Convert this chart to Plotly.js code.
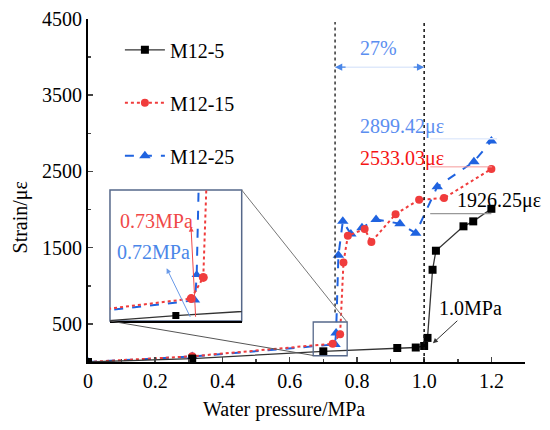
<!DOCTYPE html>
<html><head><meta charset="utf-8">
<script src="https://cdn.plot.ly/plotly-3.0.1.min.js"></script>
<style>html,body{margin:0;padding:0;background:#fff;}#chart{width:550px;height:430px;}</style>
</head><body><div id="chart"></div>
<script>
// ---- data ----
var seriesNames = ["M12-5", "M12-15", "M12-25"];
var m5X = [0, 0.31, 0.70, 0.92, 0.975, 1.0, 1.01, 1.025, 1.035, 1.117, 1.146, 1.2];
var m5Y = [0, 45, 140, 184, 190, 210, 316, 1210, 1460, 1780, 1845, 2010];
var m15X = [0, 0.31, 0.728, 0.75, 0.76, 0.773, 0.823, 0.843, 0.915, 0.985, 1.059, 1.2];
var m15Y = [0, 75, 240, 365, 1307, 1655, 1745, 1575, 1940, 2130, 2150, 2533.03];
var m25X = [0, 0.31, 0.735, 0.738, 0.745, 0.758, 0.782, 0.815, 0.857, 0.928, 0.975, 1.039, 1.148, 1.2];
var m25Y = [0, 72, 230, 380, 1400, 1845, 1680, 1760, 1870, 1815, 1690, 2300, 2628, 2899.42];
var xTickVals = [0, 0.2, 0.4, 0.6, 0.8, 1.0, 1.2];
var xTickText = ["0", "0.2", "0.4", "0.6", "0.8", "1.0", "1.2"];
var yTickVals = [500, 1500, 2500, 3500, 4500];
var yTickText = ["500", "1500", "2500", "3500", "4500"];

var FONT = "Times New Roman, Liberation Serif, DejaVu Serif, serif";
var BLACK = "#000000", RED = "#f03c3c", BLUE = "#1f63e0", LBLUE = "#5b8ef0";

function mk(x, y, name, col, dash, sym, size, lw, axis, show, rank, grp) {
  return {
    x: x, y: y, name: name, type: "scatter", mode: "lines+markers",
    line: {color: col, dash: dash, width: lw},
    marker: {color: col, symbol: sym, size: size},
    xaxis: axis[0], yaxis: axis[1], showlegend: show, legendrank: rank, legendgroup: grp
  };
}
var traces = [
  mk(m25X, m25Y, seriesNames[2], BLUE, "dash", "triangle-up", 10, 2, ["x","y"], true, 3, "c"),
  mk(m15X, m15Y, seriesNames[1], RED, "dot", "circle", 8, 2, ["x","y"], true, 2, "b"),
  mk(m5X, m5Y, seriesNames[0], BLACK, "solid", "square", 8, 1.3, ["x","y"], true, 1, "a"),
  mk(m25X, m25Y, seriesNames[2], BLUE, "dash", "triangle-up", 9, 2, ["x2","y2"], false, 6, "c"),
  mk(m15X, m15Y, seriesNames[1], RED, "dot", "circle", 9, 2, ["x2","y2"], false, 5, "b"),
  mk(m5X, m5Y, seriesNames[0], BLACK, "solid", "square", 7, 1.3, ["x2","y2"], false, 4, "a")
];
traces[2].line.color = "#333333";
traces[5].line.color = "#333333";

var STEEL = "#56688a";
var layout = {
  width: 550, height: 430,
  margin: {l: 88, r: 25, t: 19, b: 68},
  paper_bgcolor: "#ffffff", plot_bgcolor: "rgba(0,0,0,0)",
  font: {family: FONT, size: 20, color: "#000"},
  showlegend: true,
  legend: {x: 0.073, y: 0.967, xanchor: "left", yanchor: "top", bgcolor: "rgba(0,0,0,0)",
           font: {family: FONT, size: 20}, traceorder: "grouped", tracegroupgap: 24, itemwidth: 40},
  xaxis: {range: [0, 1.3], tickvals: xTickVals, ticktext: xTickText, ticks: "inside", ticklen: 5, tickwidth: 1.5,
          showline: true, linewidth: 2, linecolor: "#000", showgrid: false, zeroline: false,
          minor: {dtick: 0.1, tick0: 0, ticks: "inside", ticklen: 3, tickwidth: 1.5, showgrid: false},
          tickfont: {family: FONT, size: 20}},
  yaxis: {range: [0, 4500], tickvals: yTickVals, ticktext: yTickText, ticks: "inside", ticklen: 5, tickwidth: 1.5,
          showline: true, linewidth: 2, linecolor: "#000", showgrid: false, zeroline: false,
          minor: {dtick: 500, tick0: 0, ticks: "inside", ticklen: 3, tickwidth: 1.5, showgrid: false},
          tickfont: {family: FONT, size: 20}},
  xaxis2: {domain: [0.0503, 0.3517], anchor: "y2", range: [0.58, 0.82], showticklabels: false, ticks: "",
           showline: true, linewidth: 2, linecolor: "#000", showgrid: false, zeroline: false},
  yaxis2: {domain: [0.1195, 0.5015], anchor: "x2", range: [108, 880], showticklabels: false, ticks: "",
           showline: false, showgrid: false, zeroline: false},
  shapes: [
    {type: "rect", xref: "paper", yref: "paper", x0: 0.0503, x1: 0.3517, y0: 0.1195, y1: 0.5015,
     line: {color: STEEL, width: 1.5}, fillcolor: "#ffffff", layer: "below"},
    {type: "line", xref: "x", yref: "y", x0: 0.735, x1: 0.735, y0: 650, y1: 4460, line: {color: "#333", width: 1.5, dash: "dot"}},
    {type: "line", xref: "x", yref: "y", x0: 1.0, x1: 1.0, y0: 0, y1: 4460, line: {color: "#111", width: 1.5, dash: "dot"}},
    {type: "line", xref: "x", yref: "y", x0: 0.735, x1: 1.0, y0: 3868, y1: 3868, line: {color: "#dfe9fb", width: 1.5}},
    {type: "line", xref: "x", yref: "y", x0: 1.018, x1: 1.217, y0: 2930, y1: 2930, line: {color: "#e3ecfc", width: 1.5}},
    {type: "line", xref: "x", yref: "y", x0: 1.018, x1: 1.202, y0: 2560, y1: 2560, line: {color: "#f59a9a", width: 1}},
    {type: "line", xref: "x", yref: "y", x0: 1.018, x1: 1.2, y0: 1947, y1: 1947, line: {color: "#999", width: 1.3}},
    {type: "rect", xref: "x", yref: "y", x0: 0.670, x1: 0.771, y0: 82, y1: 525, line: {color: STEEL, width: 1.3}},
    {type: "line", xref: "paper", yref: "paper", x0: 0.0503, y0: 0.1195, x1: 0.5149, y1: 0.0192, line: {color: "#555", width: 1}},
    {type: "line", xref: "paper", yref: "paper", x0: 0.3517, y0: 0.5015, x1: 0.5927, y1: 0.1166, line: {color: "#777", width: 1}}
  ],
  annotations: [
    {xref: "paper", yref: "paper", x: -0.1556, y: 0.4213, text: "Strain/με", textangle: -90, showarrow: false,
     font: {family: FONT, size: 20}, xanchor: "center", yanchor: "middle"},
    {xref: "paper", yref: "paper", x: 0.4485, y: -0.1399, text: "Water pressure/MPa", showarrow: false,
     font: {family: FONT, size: 20}, xanchor: "center", yanchor: "middle"},
    {xref: "x", yref: "y", x: 0.863, y: 4120, text: "27%", showarrow: false, font: {family: FONT, size: 20, color: LBLUE}},
    {xref: "x", yref: "y", x: 0.735, y: 3868, ax: 12, ay: 0, text: "", showarrow: true, arrowhead: 2, arrowsize: 1.2, arrowwidth: 1.2, arrowcolor: "#4a86e8"},
    {xref: "x", yref: "y", x: 1.0, y: 3868, ax: -12, ay: 0, text: "", showarrow: true, arrowhead: 2, arrowsize: 1.2, arrowwidth: 1.2, arrowcolor: "#4a86e8"},
    {xref: "x", yref: "y", x: 0.8036, y: 3084, text: "2899.42με", showarrow: false, xanchor: "left", font: {family: FONT, size: 20, color: LBLUE}},
    {xref: "x", yref: "y", x: 0.8036, y: 2664, text: "2533.03με", showarrow: false, xanchor: "left", font: {family: FONT, size: 20, color: "#f51414"}},
    {xref: "x", yref: "y", x: 1.092, y: 2113, text: "1926.25με", showarrow: false, xanchor: "left", font: {family: FONT, size: 20, color: "#000"}},
    {xref: "x", yref: "y", x: 1.026, y: 246, ax: 38, ay: -35, text: "1.0MPa", showarrow: true, arrowhead: 2, arrowsize: 1, arrowwidth: 1, arrowcolor: "#333",
     font: {family: FONT, size: 20, color: "#000"}},
    {xref: "paper", yref: "paper", x: 0.0686, y: 0.411, text: "0.73MPa", showarrow: false, xanchor: "left", yanchor: "middle", font: {family: FONT, size: 20, color: "#f04848"}},
    {xref: "paper", yref: "paper", x: 0.0618, y: 0.3216, text: "0.72MPa", showarrow: false, xanchor: "left", yanchor: "middle", font: {family: FONT, size: 20, color: "#4a86e8"}},
    {xref: "paper", yref: "paper", x: 0.2357, y: 0.3945, ax: 4.7, ay: 91.6, text: "", showarrow: true, arrowhead: 2, arrowsize: 1, arrowwidth: 1, arrowcolor: "#f04848"},
    {xref: "paper", yref: "paper", x: 0.180, y: 0.273, ax: 24.3, ay: 50, text: "", showarrow: true, arrowhead: 2, arrowsize: 1, arrowwidth: 1, arrowcolor: "#6a9ae8"}
  ]
};
Plotly.newPlot("chart", traces, layout, {displayModeBar: false, staticPlot: true});
</script></body></html>
